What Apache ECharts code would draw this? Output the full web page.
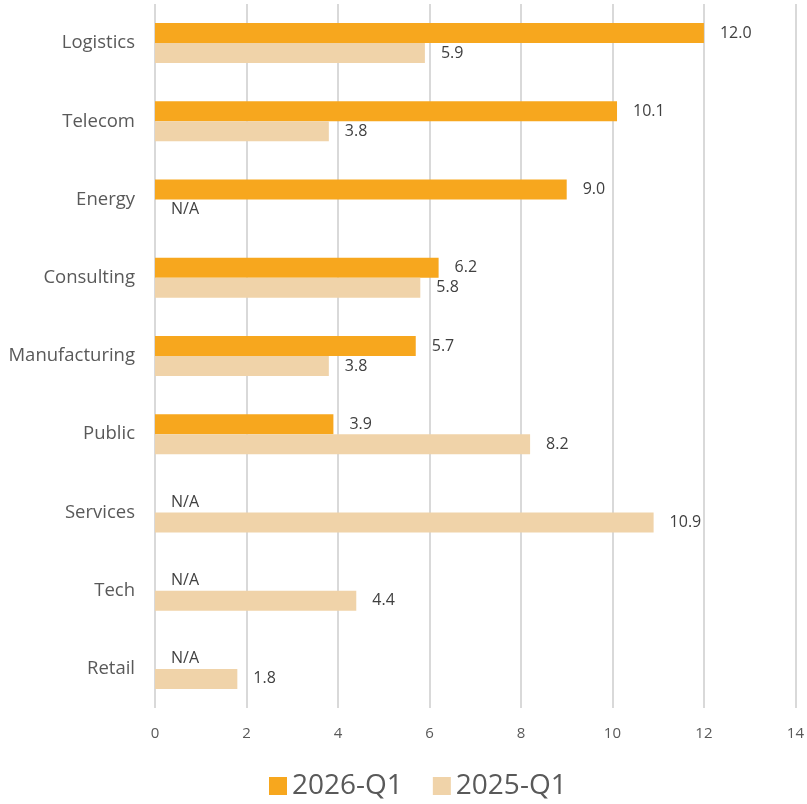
<!DOCTYPE html>
<html><head><meta charset="utf-8">
<script src="https://cdn.jsdelivr.net/npm/echarts@6/dist/echarts.min.js"></script>
<style>html,body{margin:0;padding:0;background:#fff}#c{width:807px;height:804px}</style>
</head><body><div id="c"></div>
<script>
const categories = ['Logistics','Telecom','Energy','Consulting','Manufacturing','Public','Services','Tech','Retail'];
const s2026 = [12.0, 10.1, 9.0, 6.2, 5.7, 3.9, null, null, null];
const s2025 = [5.9, 3.8, null, 5.8, 3.8, 8.2, 10.9, 4.4, 1.8];
const xTicks = [0,2,4,6,8,10,12,14];
const font = '"Open Sans", "Noto Sans", sans-serif';

function toData(arr){
  return arr.map(v => v === null ? {value:0, na:true} : {value:v});
}
const labelCfg = {
  show:true, position:'right', distance:16, color:'#404040', fontSize:16, fontFamily:font,
  formatter: p => (p.data && p.data.na) ? 'N/A' : p.value.toFixed(1)
};
const chart = echarts.init(document.getElementById('c'));
chart.setOption({
  animation:false,
  grid:{left:155, right:10, top:4, bottom:96, containLabel:false},
  legend:{
    bottom:-1, left:264, itemWidth:18, itemHeight:18, itemGap:30, itemStyle:{borderWidth:0},
    icon:'rect',
    textStyle:{fontSize:28, color:'#595959', fontFamily:font},
    data:['2026-Q1','2025-Q1']
  },
  xAxis:{
    type:'value', min:xTicks[0], max:xTicks[xTicks.length-1], interval:2,
    axisLine:{show:false}, axisTick:{show:false},
    axisLabel:{color:'#595959', fontSize:15, fontFamily:font, margin:18},
    splitLine:{show:true, lineStyle:{color:'#d9d9d9', width:2}}
  },
  yAxis:{
    type:'category', data:categories, inverse:true,
    axisLine:{show:false}, axisTick:{show:false},
    axisLabel:{color:'#595959', fontSize:18.5, fontFamily:font, margin:20}
  },
  series:[
    {name:'2026-Q1', type:'bar', data:toData(s2026), barWidth:20, barGap:'0%',
     itemStyle:{color:'#F7A71E'}, label:labelCfg},
    {name:'2025-Q1', type:'bar', data:toData(s2025), barWidth:20, barGap:'0%',
     itemStyle:{color:'#F0D3A9'}, label:labelCfg}
  ]
});
</script></body></html>
